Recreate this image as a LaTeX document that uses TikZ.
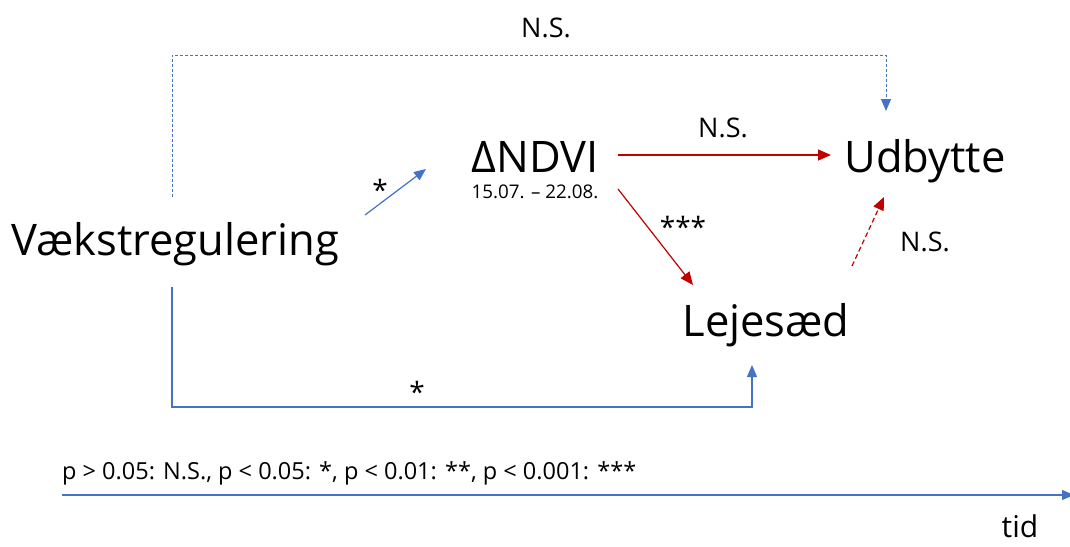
\documentclass[tikz,border=0pt]{standalone}
\usepackage{fontspec}
\setmainfont{Open Sans}
\usetikzlibrary{arrows.meta}
\definecolor{eblue}{HTML}{4472C4}
\definecolor{ered}{HTML}{C00000}
\begin{document}
\begin{tikzpicture}[x=1pt,y=-1pt,
  big/.style={inner sep=0pt,anchor=base,font=\fontsize{43.5}{46}\selectfont},
  lbl/.style={inner sep=0pt,anchor=base,font=\fontsize{27}{30}\selectfont},
  star/.style={inner sep=0pt,anchor=base,font=\fontsize{28}{30}\selectfont},
  bluearr/.style={draw=eblue,line width=1.2pt,-{Triangle[length=12pt,width=10pt]},color=eblue},
  redarr/.style={draw=ered,line width=1.2pt,-{Triangle[length=13pt,width=11pt]},color=ered}]
\path[use as bounding box] (0,0) rectangle (1070,546);
\node[big] (vaekst) at (175,255) {Vækstregulering};
\node[big] (ndvi) at (535,172) {ΔNDVI};
\node[inner sep=0pt,anchor=base,font=\fontsize{18.8}{21}\selectfont] (dato) at (535,198) {15.07. – 22.08.};
\node[big] (udb) at (925,172) {Udbytte};
\node[big] (leje) at (766,336) {Lejesæd};
% coordinates
\coordinate (a1) at (172,197);
\coordinate (a2) at (172,55);
\coordinate (a3) at (886,55);
\coordinate (a4) at (886,111);
\coordinate (b1) at (365,215);
\coordinate (b2) at (426,169);
\coordinate (c1) at (618,155);
\coordinate (c2) at (831,155);
\coordinate (d1) at (618,189);
\coordinate (d2) at (693,285);
\coordinate (e1) at (852,266);
\coordinate (e2) at (884,197);
\coordinate (f1) at (172,287);
\coordinate (f2) at (172,407);
\coordinate (f3) at (752,407);
\coordinate (f4) at (752,365);
\coordinate (t1) at (62,495);
\coordinate (t2) at (1074,495);
\draw[bluearr,dashed,dash pattern=on 3pt off 2pt,line width=1pt] (a1) -- (a2) -- (a3) -- (a4);
\draw[bluearr] (b1) -- (b2);
\draw[redarr] (c1) -- (c2);
\draw[redarr] (d1) -- (d2);
\draw[redarr,dash pattern=on 5pt off 3pt] (e1) -- (e2);
\draw[bluearr] (f1) -- (f2) -- (f3) -- (f4);
\draw[bluearr] (t1) -- (t2);
% labels
\node[lbl] (ns1) at (546,37) {N.S.};
\node[lbl] (ns2) at (723,137) {N.S.};
\node[lbl] (ns3) at (925,251) {N.S.};
\node[star] (s1) at (380,200) {*};
\node[star] (s3) at (683,237) {***};
\node[star] (s2) at (417,402) {*};
\node[inner sep=0pt,anchor=base west,font=\fontsize{23.5}{26}\selectfont] (leg) at (62,479) {p > 0.05: N.S., p < 0.05: *, p < 0.01: **, p < 0.001: ***};
\node[inner sep=0pt,font=\fontsize{30}{32}\selectfont,anchor=base] (tid) at (1020,537) {tid};
\end{tikzpicture}
\end{document}
